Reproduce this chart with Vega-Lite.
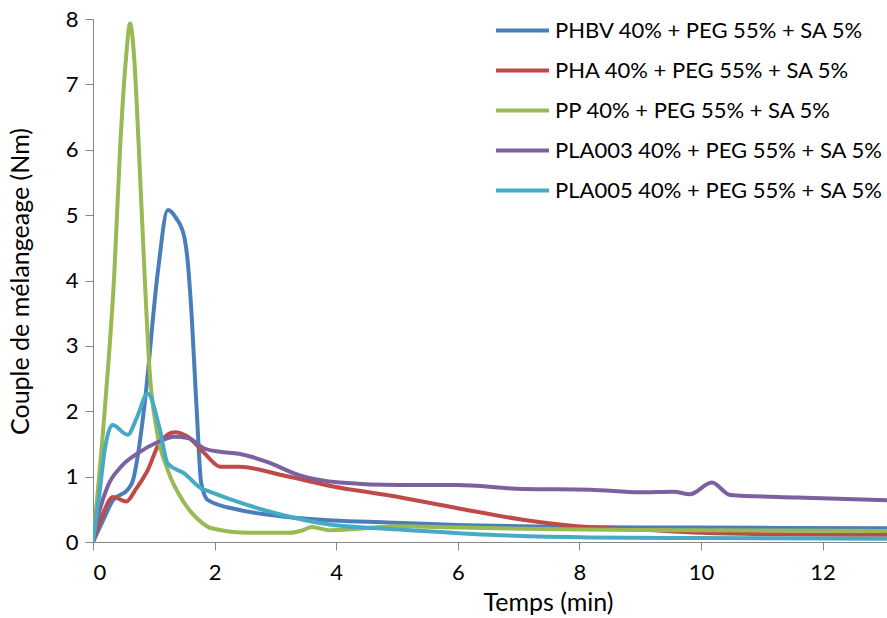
{
  "$schema": "https://vega.github.io/schema/vega-lite/v6.json",
  "autosize": {"type": "none"},
  "width": 794,
  "height": 523,
  "padding": {"left": 93, "top": 19, "right": 0, "bottom": 76},
  "background": "white",
  "config": {
    "view": {"stroke": null},
    "font": "Lato",
    "axis": {
      "grid": false,
      "domainColor": "#878787",
      "tickColor": "#878787",
      "tickSize": 8,
      "labelFont": "Lato",
      "labelFontSize": 22,
      "labelColor": "#000000",
      "titleFont": "Lato",
      "titleFontSize": 25,
      "titleFontWeight": "normal",
      "titleColor": "#000000"
    },
    "legend": {
      "labelFont": "Lato",
      "labelFontSize": 22,
      "labelColor": "#000000",
      "labelLimit": 400
    }
  },
  "data": {
    "values": [
      {"s": "PHBV 40% + PEG 55% + SA 5%", "t": 0, "c": 0},
      {"s": "PHBV 40% + PEG 55% + SA 5%", "t": 0.15, "c": 0.3},
      {"s": "PHBV 40% + PEG 55% + SA 5%", "t": 0.33, "c": 0.64},
      {"s": "PHBV 40% + PEG 55% + SA 5%", "t": 0.57, "c": 0.8},
      {"s": "PHBV 40% + PEG 55% + SA 5%", "t": 0.66, "c": 0.95},
      {"s": "PHBV 40% + PEG 55% + SA 5%", "t": 0.75, "c": 1.4},
      {"s": "PHBV 40% + PEG 55% + SA 5%", "t": 0.85, "c": 2.12},
      {"s": "PHBV 40% + PEG 55% + SA 5%", "t": 1.07, "c": 4.16},
      {"s": "PHBV 40% + PEG 55% + SA 5%", "t": 1.23, "c": 5.08},
      {"s": "PHBV 40% + PEG 55% + SA 5%", "t": 1.37, "c": 4.95},
      {"s": "PHBV 40% + PEG 55% + SA 5%", "t": 1.5, "c": 4.67},
      {"s": "PHBV 40% + PEG 55% + SA 5%", "t": 1.56, "c": 4.27},
      {"s": "PHBV 40% + PEG 55% + SA 5%", "t": 1.61, "c": 3.65},
      {"s": "PHBV 40% + PEG 55% + SA 5%", "t": 1.7, "c": 2.12},
      {"s": "PHBV 40% + PEG 55% + SA 5%", "t": 1.78, "c": 0.9},
      {"s": "PHBV 40% + PEG 55% + SA 5%", "t": 1.89, "c": 0.64},
      {"s": "PHBV 40% + PEG 55% + SA 5%", "t": 2.41, "c": 0.49},
      {"s": "PHBV 40% + PEG 55% + SA 5%", "t": 3.12, "c": 0.39},
      {"s": "PHBV 40% + PEG 55% + SA 5%", "t": 3.95, "c": 0.33},
      {"s": "PHBV 40% + PEG 55% + SA 5%", "t": 4.83, "c": 0.3},
      {"s": "PHBV 40% + PEG 55% + SA 5%", "t": 6, "c": 0.26},
      {"s": "PHBV 40% + PEG 55% + SA 5%", "t": 8, "c": 0.23},
      {"s": "PHBV 40% + PEG 55% + SA 5%", "t": 10, "c": 0.22},
      {"s": "PHBV 40% + PEG 55% + SA 5%", "t": 13.06, "c": 0.21},

      {"s": "PHA 40% + PEG 55% + SA 5%", "t": 0, "c": 0},
      {"s": "PHA 40% + PEG 55% + SA 5%", "t": 0.15, "c": 0.4},
      {"s": "PHA 40% + PEG 55% + SA 5%", "t": 0.33, "c": 0.69},
      {"s": "PHA 40% + PEG 55% + SA 5%", "t": 0.55, "c": 0.62},
      {"s": "PHA 40% + PEG 55% + SA 5%", "t": 0.7, "c": 0.8},
      {"s": "PHA 40% + PEG 55% + SA 5%", "t": 0.9, "c": 1.1},
      {"s": "PHA 40% + PEG 55% + SA 5%", "t": 1.09, "c": 1.51},
      {"s": "PHA 40% + PEG 55% + SA 5%", "t": 1.34, "c": 1.68},
      {"s": "PHA 40% + PEG 55% + SA 5%", "t": 1.56, "c": 1.61},
      {"s": "PHA 40% + PEG 55% + SA 5%", "t": 1.83, "c": 1.36},
      {"s": "PHA 40% + PEG 55% + SA 5%", "t": 2.1, "c": 1.15},
      {"s": "PHA 40% + PEG 55% + SA 5%", "t": 2.41, "c": 1.15},
      {"s": "PHA 40% + PEG 55% + SA 5%", "t": 3.12, "c": 1.02},
      {"s": "PHA 40% + PEG 55% + SA 5%", "t": 3.95, "c": 0.85},
      {"s": "PHA 40% + PEG 55% + SA 5%", "t": 4.88, "c": 0.71},
      {"s": "PHA 40% + PEG 55% + SA 5%", "t": 5.98, "c": 0.52},
      {"s": "PHA 40% + PEG 55% + SA 5%", "t": 7.07, "c": 0.34},
      {"s": "PHA 40% + PEG 55% + SA 5%", "t": 7.96, "c": 0.24},
      {"s": "PHA 40% + PEG 55% + SA 5%", "t": 9.0, "c": 0.19},
      {"s": "PHA 40% + PEG 55% + SA 5%", "t": 10, "c": 0.14},
      {"s": "PHA 40% + PEG 55% + SA 5%", "t": 11, "c": 0.12},
      {"s": "PHA 40% + PEG 55% + SA 5%", "t": 13.06, "c": 0.11},

      {"s": "PP 40% + PEG 55% + SA 5%", "t": 0, "c": 0},
      {"s": "PP 40% + PEG 55% + SA 5%", "t": 0.2, "c": 2.1},
      {"s": "PP 40% + PEG 55% + SA 5%", "t": 0.35, "c": 4.1},
      {"s": "PP 40% + PEG 55% + SA 5%", "t": 0.45, "c": 6.1},
      {"s": "PP 40% + PEG 55% + SA 5%", "t": 0.54, "c": 7.37},
      {"s": "PP 40% + PEG 55% + SA 5%", "t": 0.61, "c": 7.93},
      {"s": "PP 40% + PEG 55% + SA 5%", "t": 0.68, "c": 7.37},
      {"s": "PP 40% + PEG 55% + SA 5%", "t": 0.75, "c": 6.1},
      {"s": "PP 40% + PEG 55% + SA 5%", "t": 0.85, "c": 4.06},
      {"s": "PP 40% + PEG 55% + SA 5%", "t": 0.93, "c": 2.63},
      {"s": "PP 40% + PEG 55% + SA 5%", "t": 1.05, "c": 1.7},
      {"s": "PP 40% + PEG 55% + SA 5%", "t": 1.23, "c": 1.1},
      {"s": "PP 40% + PEG 55% + SA 5%", "t": 1.5, "c": 0.6},
      {"s": "PP 40% + PEG 55% + SA 5%", "t": 1.8, "c": 0.29},
      {"s": "PP 40% + PEG 55% + SA 5%", "t": 1.95, "c": 0.21},
      {"s": "PP 40% + PEG 55% + SA 5%", "t": 2.58, "c": 0.14},
      {"s": "PP 40% + PEG 55% + SA 5%", "t": 3.24, "c": 0.14},
      {"s": "PP 40% + PEG 55% + SA 5%", "t": 3.45, "c": 0.18},
      {"s": "PP 40% + PEG 55% + SA 5%", "t": 3.6, "c": 0.23},
      {"s": "PP 40% + PEG 55% + SA 5%", "t": 3.9, "c": 0.18},
      {"s": "PP 40% + PEG 55% + SA 5%", "t": 5.05, "c": 0.24},
      {"s": "PP 40% + PEG 55% + SA 5%", "t": 6, "c": 0.22},
      {"s": "PP 40% + PEG 55% + SA 5%", "t": 8, "c": 0.19},
      {"s": "PP 40% + PEG 55% + SA 5%", "t": 10, "c": 0.18},
      {"s": "PP 40% + PEG 55% + SA 5%", "t": 13.06, "c": 0.17},

      {"s": "PLA003 40% + PEG 55% + SA 5%", "t": 0, "c": 0},
      {"s": "PLA003 40% + PEG 55% + SA 5%", "t": 0.1, "c": 0.45},
      {"s": "PLA003 40% + PEG 55% + SA 5%", "t": 0.24, "c": 0.85},
      {"s": "PLA003 40% + PEG 55% + SA 5%", "t": 0.46, "c": 1.15},
      {"s": "PLA003 40% + PEG 55% + SA 5%", "t": 0.74, "c": 1.36},
      {"s": "PLA003 40% + PEG 55% + SA 5%", "t": 1.07, "c": 1.53},
      {"s": "PLA003 40% + PEG 55% + SA 5%", "t": 1.34, "c": 1.61},
      {"s": "PLA003 40% + PEG 55% + SA 5%", "t": 1.56, "c": 1.59},
      {"s": "PLA003 40% + PEG 55% + SA 5%", "t": 1.83, "c": 1.43},
      {"s": "PLA003 40% + PEG 55% + SA 5%", "t": 2.09, "c": 1.38},
      {"s": "PLA003 40% + PEG 55% + SA 5%", "t": 2.4, "c": 1.35},
      {"s": "PLA003 40% + PEG 55% + SA 5%", "t": 2.85, "c": 1.23},
      {"s": "PLA003 40% + PEG 55% + SA 5%", "t": 3.4, "c": 1.02},
      {"s": "PLA003 40% + PEG 55% + SA 5%", "t": 4.06, "c": 0.91},
      {"s": "PLA003 40% + PEG 55% + SA 5%", "t": 5.05, "c": 0.87},
      {"s": "PLA003 40% + PEG 55% + SA 5%", "t": 5.98, "c": 0.87},
      {"s": "PLA003 40% + PEG 55% + SA 5%", "t": 7.07, "c": 0.81},
      {"s": "PLA003 40% + PEG 55% + SA 5%", "t": 8.18, "c": 0.8},
      {"s": "PLA003 40% + PEG 55% + SA 5%", "t": 9.0, "c": 0.76},
      {"s": "PLA003 40% + PEG 55% + SA 5%", "t": 9.55, "c": 0.77},
      {"s": "PLA003 40% + PEG 55% + SA 5%", "t": 9.82, "c": 0.73},
      {"s": "PLA003 40% + PEG 55% + SA 5%", "t": 10.18, "c": 0.91},
      {"s": "PLA003 40% + PEG 55% + SA 5%", "t": 10.48, "c": 0.72},
      {"s": "PLA003 40% + PEG 55% + SA 5%", "t": 11.58, "c": 0.68},
      {"s": "PLA003 40% + PEG 55% + SA 5%", "t": 13.06, "c": 0.64},

      {"s": "PLA005 40% + PEG 55% + SA 5%", "t": 0, "c": 0},
      {"s": "PLA005 40% + PEG 55% + SA 5%", "t": 0.1, "c": 0.7},
      {"s": "PLA005 40% + PEG 55% + SA 5%", "t": 0.2, "c": 1.45},
      {"s": "PLA005 40% + PEG 55% + SA 5%", "t": 0.32, "c": 1.79},
      {"s": "PLA005 40% + PEG 55% + SA 5%", "t": 0.57, "c": 1.64},
      {"s": "PLA005 40% + PEG 55% + SA 5%", "t": 0.72, "c": 1.9},
      {"s": "PLA005 40% + PEG 55% + SA 5%", "t": 0.9, "c": 2.27},
      {"s": "PLA005 40% + PEG 55% + SA 5%", "t": 1.09, "c": 1.76},
      {"s": "PLA005 40% + PEG 55% + SA 5%", "t": 1.23, "c": 1.2},
      {"s": "PLA005 40% + PEG 55% + SA 5%", "t": 1.5, "c": 1.05},
      {"s": "PLA005 40% + PEG 55% + SA 5%", "t": 1.78, "c": 0.82},
      {"s": "PLA005 40% + PEG 55% + SA 5%", "t": 1.92, "c": 0.77},
      {"s": "PLA005 40% + PEG 55% + SA 5%", "t": 2.3, "c": 0.64},
      {"s": "PLA005 40% + PEG 55% + SA 5%", "t": 3.13, "c": 0.41},
      {"s": "PLA005 40% + PEG 55% + SA 5%", "t": 3.95, "c": 0.26},
      {"s": "PLA005 40% + PEG 55% + SA 5%", "t": 4.88, "c": 0.2},
      {"s": "PLA005 40% + PEG 55% + SA 5%", "t": 6.53, "c": 0.11},
      {"s": "PLA005 40% + PEG 55% + SA 5%", "t": 8.18, "c": 0.07},
      {"s": "PLA005 40% + PEG 55% + SA 5%", "t": 10, "c": 0.06},
      {"s": "PLA005 40% + PEG 55% + SA 5%", "t": 13.06, "c": 0.05}
    ]
  },
  "mark": {"type": "line", "interpolate": "monotone", "strokeWidth": 4, "clip": true},
  "encoding": {
    "x": {
      "field": "t",
      "type": "quantitative",
      "scale": {"domain": [0, 13.06], "nice": false, "zero": false},
      "axis": {
        "values": [0, 2, 4, 6, 8, 10, 12],
        "title": "Temps (min)",
        "labelPadding": 12,
        "titleX": 455,
        "titleY": 60,
        "titleBaseline": "middle",
        "titleAnchor": "middle",
        "titleAlign": "center"
      }
    },
    "y": {
      "field": "c",
      "type": "quantitative",
      "scale": {"domain": [0, 8], "nice": false},
      "axis": {
        "values": [0, 1, 2, 3, 4, 5, 6, 7, 8],
        "title": "Couple de mélangeage (Nm)",
        "labelPadding": 7,
        "titleX": -73,
        "titleY": 262,
        "titleAngle": -90,
        "titleBaseline": "middle",
        "titleAlign": "center"
      }
    },
    "color": {
      "field": "s",
      "type": "nominal",
      "sort": null,
      "scale": {
        "domain": [
          "PHBV 40% + PEG 55% + SA 5%",
          "PHA 40% + PEG 55% + SA 5%",
          "PP 40% + PEG 55% + SA 5%",
          "PLA003 40% + PEG 55% + SA 5%",
          "PLA005 40% + PEG 55% + SA 5%"
        ],
        "range": ["#4A7EBB", "#BE4B48", "#98B954", "#7D60A0", "#46AAC5"]
      },
      "legend": {
        "title": null,
        "orient": "none",
        "legendX": 401,
        "legendY": -17,
        "symbolType": "stroke",
        "symbolSize": 2809,
        "symbolStrokeWidth": 4,
        "labelOffset": 4,
        "rowPadding": -16
      }
    }
  }
}
